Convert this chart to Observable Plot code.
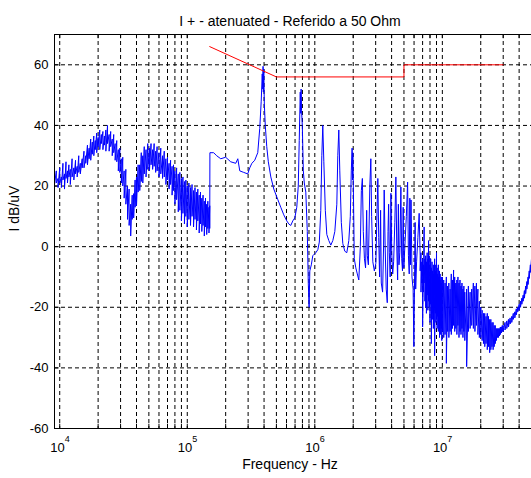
<!DOCTYPE html>
<html>
<head>
<meta charset="utf-8">
<script src="https://cdn.jsdelivr.net/npm/d3@7"></script>
<script src="https://cdn.jsdelivr.net/npm/@observablehq/plot@0.6"></script>
<style>
  html, body { margin: 0; padding: 0; background: #fff; }
</style>
</head>
<body>
<div id="chart"></div>
<script>
// ---- text ----
const titleText = "I + - atenuated - Referido a 50 Ohm";
const xLabelText = "Frequency - Hz";
const yLabelText = "I dB/uV";

// ---- axis ticks ----
const yTicks = [-60, -40, -20, 0, 20, 40, 60];
const decades = [1e4, 1e5, 1e6, 1e7];
const exponents = ["4", "5", "6", "7"];
const minorGrid = [
  2e4, 3e4, 4e4, 5e4, 6e4, 7e4, 8e4, 9e4,
  2e5, 3e5, 4e5, 5e5, 6e5, 7e5, 8e5, 9e5,
  2e6, 3e6, 4e6, 5e6, 6e6, 7e6, 8e6, 9e6,
  2e7, 3e7, 4e7
];

// ---- limit line (red) ----
const limitHz = [1.5e5, 5e5, 5e6, 5e6, 3e7];
const limitDb = [66, 56, 56, 60, 60];

// ---- measured sweep (blue) ----
// noisy bands: per frequency bin [Hz, max dB, min dB]
const bandLow = [
  [9.1e3,23.5,20.5],[9.4e3,25,21],[9.7e3,22.5,19.5],[1.0e4,26,21],[1.03e4,23,19.5],[1.06e4,27.5,22],[1.09e4,24,19],
  [1.12e4,28,22.5],[1.15e4,25,21],[1.18e4,27,23],[1.21e4,25.5,20.5],[1.25e4,29,23],[1.29e4,26,22],[1.33e4,28.5,24],
  [1.37e4,26.5,23],[1.41e4,30,24.5],[1.45e4,27.5,24],[1.5e4,29,26],[1.55e4,31.5,26],[1.6e4,30,27.5],[1.65e4,33.5,27],
  [1.7e4,32.5,29],[1.75e4,35.5,28.5],[1.8e4,34.5,30.5],[1.85e4,36.5,30],[1.9e4,35,32],[1.95e4,37.5,31],[2.0e4,36,33],
  [2.06e4,38.5,32],[2.12e4,37,34],[2.18e4,38,32],[2.24e4,36.5,33.5],[2.3e4,38.5,31.5],[2.37e4,40,34],[2.44e4,37,31.5],
  [2.51e4,38,33],[2.58e4,35.5,30],[2.65e4,37,31],[2.72e4,34,28.5],[2.8e4,35,28],[2.88e4,32,25],[2.96e4,32.5,24.5],
  [3.04e4,29,21],[3.12e4,29.5,20],[3.2e4,25,16],[3.3e4,25.5,14],[3.4e4,20,9],[3.5e4,19,7],[3.6e4,14,3.5],[3.7e4,17,9],
  [3.8e4,17.5,9.5],[3.9e4,22,13],[4.0e4,23,13.5],[4.12e4,27,18],[4.24e4,27,18.5],[4.36e4,31,21.5],[4.48e4,30,21],
  [4.6e4,33,24],[4.75e4,32,23],[4.9e4,34,25.5],[5.05e4,32.5,25],[5.2e4,34,27],[5.35e4,32,25.5],[5.5e4,34,26.5],
  [5.65e4,31.5,24.5],[5.8e4,33,25],[6.0e4,31,23],[6.2e4,32.5,24],[6.4e4,30,22.5],[6.6e4,31.5,23],[6.8e4,29,20.5],
  [7.0e4,29.5,22],[7.2e4,27.5,19],[7.4e4,28.5,20.5],[7.6e4,26.5,17],[7.8e4,27,18.5],[8.0e4,25,14],[8.25e4,26,15.5],
  [8.5e4,24,11.5],[8.75e4,24.5,12],[9.0e4,22.5,8.5],[9.25e4,23,11],[9.5e4,21.5,7.5],[9.75e4,22,10],[1.0e5,20,6.5],
  [1.03e5,21,9],[1.06e5,19.5,7],[1.09e5,20.5,10],[1.12e5,18.5,6.5],[1.15e5,19.5,9],[1.18e5,18,5.5],[1.21e5,19,8.5],
  [1.24e5,17,4.5],[1.27e5,18,7.5],[1.3e5,16,5],[1.33e5,17,7],[1.36e5,15,3.5],[1.39e5,16,6.5],[1.42e5,14,4],
  [1.45e5,15,6],[1.48e5,13,4.5],[1.5e5,13.5,6]
];
// single trace points [Hz, dB]
const sweepMid = [
  [1.505e5,31],[1.61e5,31],[1.70e5,30],[1.83e5,29],[2.0e5,29.5],[2.19e5,28],[2.40e5,27.5],[2.49e5,29],[2.58e5,25],
  [2.77e5,24.5],[2.98e5,24],[3.09e5,26],[3.21e5,27.5],[3.38e5,28.5],[3.57e5,31],[3.70e5,39],[3.80e5,48],[3.87e5,57],
  [3.91e5,52],[3.93e5,59.5],[3.95e5,51],[3.98e5,58.5],[4.02e5,47],[4.09e5,40],[4.20e5,33],[4.32e5,28],[4.52e5,23],
  [4.77e5,19],[5.13e5,15.5],[5.41e5,13],[5.71e5,10.5],[6.03e5,8.5],[6.25e5,7.5],[6.48e5,7],[6.72e5,8.5],[6.97e5,9.5],
  [7.22e5,13],[7.42e5,20],[7.55e5,35],[7.69e5,51],[7.75e5,44],[7.81e5,52],[7.87e5,45],[7.98e5,40],[8.13e5,25],
  [8.27e5,21],[8.50e5,18],[8.73e5,5],[8.89e5,-12],[9.02e5,-20],[9.14e5,-8],[9.39e5,-6],[9.64e5,-3],
  [1.018e6,-2],[1.056e6,-1],[1.085e6,1.5],[1.114e6,12],[1.135e6,30],[1.155e6,40],[1.177e6,28],[1.209e6,12],[1.242e6,4],
  [1.288e6,2],[1.335e6,0.5],[1.384e6,2],[1.435e6,5],[1.488e6,14],[1.514e6,30],[1.542e6,38.5],[1.570e6,25],[1.614e6,8],
  [1.658e6,1],[1.718e6,-1.5],[1.782e6,-2],[1.848e6,2],[1.898e6,10],[1.932e6,25],[1.961e6,32.5],[1.975e6,22],[1.986e6,31],
  [2.005e6,20],[2.04e6,-4],[2.097e6,-7],[2.154e6,-9],[2.213e6,-11],[2.275e6,0],[2.317e6,18.5],[2.36e6,22.5]
];
const sweepComb = [
  [2.40e6,5],[2.45e6,-4],[2.50e6,-7],[2.55e6,12],[2.58e6,-3],[2.63e6,-6],[2.70e6,20],[2.75e6,29],[2.79e6,10],
  [2.85e6,-5],[2.93e6,-8],[3.01e6,-5.5],[3.06e6,8],[3.12e6,22.5],[3.17e6,3],[3.22e6,-10],[3.28e6,12],[3.32e6,-12],
  [3.40e6,-15],[3.46e6,0],[3.50e6,18.7],[3.56e6,0],[3.63e6,-14],[3.70e6,-18.5],[3.75e6,5],[3.79e6,14],[3.84e6,-2],
  [3.90e6,-10],[3.95e6,17.6],[4.01e6,-2],[4.08e6,-9],[4.15e6,-5],[4.24e6,8],[4.32e6,23],[4.39e6,0],[4.46e6,-11],
  [4.52e6,14],[4.57e6,-6],[4.64e6,-2],[4.73e6,19.7],[4.80e6,-4],[4.87e6,-8],[4.93e6,13],[4.99e6,-7],[5.08e6,0],
  [5.22e6,10],[5.34e6,21.3],[5.42e6,-3],[5.50e6,-9],[5.56e6,16],[5.62e6,-6],[5.68e6,15.4],[5.78e6,-10],[5.90e6,-14],
  [5.98e6,-33],[6.05e6,-12],[6.12e6,8],[6.18e6,-14],[6.28e6,-5],[6.43e6,3],[6.58e6,11]
];
const bandHigh = [
  [6.7e6,-3,-8],[6.8e6,-2,-15],[6.9e6,-5,-12],[7.0e6,-4,-26.5],[7.1e6,-6,-15],[7.2e6,6.5,-12],[7.3e6,-4,-18],
  [7.4e6,-3,-20],[7.5e6,-5,-22],[7.6e6,-2,-16],[7.7e6,-4,-21],[7.8e6,2,-18],[7.9e6,-3,-20],[8.0e6,-6,-25],
  [8.1e6,-4,-19],[8.2e6,-7,-32],[8.3e6,-5,-22],[8.4e6,-8,-24],[8.5e6,-6,-27],[8.6e6,-9,-21],[8.7e6,-4,-36],
  [8.8e6,-6,-22],[8.9e6,-8,-25],[9.0e6,-2,-24],[9.1e6,-7,-27],[9.2e6,-9,-23],[9.3e6,-6,-28],[9.4e6,-10,-25],
  [9.5e6,-8,-30],[9.6e6,-9,-26],[9.7e6,-11,-29],[9.8e6,-10,-27],[9.9e6,-12,-31],[1.0e7,-10,-28],[1.025e7,-11,-30],
  [1.05e7,-12,-29],[1.075e7,-10,-38.5],[1.1e7,-13,-28],[1.125e7,-12,-30],[1.15e7,-14,-28],[1.175e7,-9,-29],
  [1.2e7,-11,-27],[1.225e7,-7.7,-26],[1.25e7,-10,-28],[1.275e7,-12,-27],[1.3e7,-11,-29],[1.325e7,-10,-26],
  [1.35e7,-12,-30],[1.375e7,-11,-28],[1.4e7,-13,-29],[1.425e7,-12,-27],[1.45e7,-14,-30],[1.475e7,-13,-28],
  [1.5e7,-15,-31],[1.55e7,-14,-39.6],[1.6e7,-13,-28],[1.65e7,-15,-27],[1.7e7,-14,-26],[1.75e7,-12,-27],
  [1.8e7,-13,-28],[1.85e7,-12,-26],[1.9e7,-14,-29],[1.95e7,-18,-30],[2.0e7,-20,-30],[2.05e7,-21,-31],[2.1e7,-22,-32],
  [2.15e7,-22,-33],[2.2e7,-23,-32],[2.25e7,-22,-34],[2.3e7,-23,-33],[2.35e7,-24,-35],[2.4e7,-24,-34],[2.45e7,-25,-33],
  [2.5e7,-25,-34],[2.55e7,-26,-33],[2.6e7,-26,-32],[2.65e7,-27,-31],[2.7e7,-27,-30],[2.75e7,-27,-30],[2.8e7,-27,-29.5],
  [2.85e7,-26.5,-29],[2.9e7,-26.5,-28.5],[2.95e7,-26,-28],[3.0e7,-26,-28],[3.1e7,-25,-27.5],[3.2e7,-24.5,-27],
  [3.3e7,-24,-26.5],[3.4e7,-23.5,-25.5],[3.5e7,-23,-25],[3.6e7,-22,-24],[3.7e7,-21.5,-23.5],[3.8e7,-20.5,-22.5],
  [3.9e7,-20,-21.5],[4.0e7,-19,-21],[4.1e7,-18,-20],[4.2e7,-17,-19],[4.3e7,-16,-18],[4.4e7,-14.5,-17],[4.5e7,-13,-15.5],
  [4.6e7,-11.5,-14],[4.7e7,-10,-12.5],[4.8e7,-8,-10.5],[4.9e7,-6,-8.5],[5.0e7,-4,-6]
];

const xDomain = [9.1e3, 5e7];
const yDomain = [-60, 70];

const fromBand = band => band.flatMap(([f, hi, lo]) => [{f, v: hi}, {f, v: lo}]);
const fromTrace = tr => tr.map(([f, v]) => ({f, v}));
const sweep = [...fromBand(bandLow), ...fromTrace(sweepMid), ...fromTrace(sweepComb), ...fromBand(bandHigh)];
const limit = limitHz.map((f, i) => ({f, v: limitDb[i]}));
const allXGrid = [...decades, ...minorGrid];
const gridStyle = {stroke: "#000", strokeOpacity: 1, strokeWidth: 1, strokeDasharray: "4,3"};

const chart = Plot.plot({
  width: 531,
  height: 478,
  marginLeft: 54,
  marginRight: 0,
  marginTop: 34,
  marginBottom: 50,
  style: {fontFamily: "'Liberation Sans', Arial, sans-serif", fontSize: "13px", background: "#fff", color: "#000"},
  x: {type: "log", domain: xDomain, axis: null},
  y: {domain: yDomain, axis: null},
  marks: [
    Plot.gridX(allXGrid, gridStyle),
    Plot.gridY(yTicks.filter(d => d > yDomain[0]), gridStyle),
    // inward ticks
    Plot.ruleX(allXGrid, {y1: yDomain[0], y2: yDomain[0] + 1.4, stroke: "#000"}),
    Plot.ruleX(allXGrid, {y1: yDomain[1], y2: yDomain[1] - 1.4, stroke: "#000"}),
    Plot.ruleY(yTicks, {x1: xDomain[0], x2: 9.9e3, stroke: "#000"}),
    // data
    Plot.line(sweep, {x: "f", y: "v", stroke: "#0000ff", strokeWidth: 1, clip: true}),
    Plot.line(limit, {x: "f", y: "v", stroke: "#ff0000", strokeWidth: 1}),
    // box
    Plot.ruleX([xDomain[0]], {stroke: "#000"}),
    Plot.ruleY([yDomain[0], yDomain[1]], {stroke: "#000"}),
    // y tick labels
    Plot.text(yTicks, {x: xDomain[0], y: d => d, text: d => String(d), dx: -6, textAnchor: "end", fontSize: 13}),
    // x tick labels 10^n
    Plot.text(decades, {x: d => d, y: yDomain[0], text: () => "10", dx: 5, dy: 19, textAnchor: "end", fontSize: 13}),
    Plot.text(decades, {x: d => d, y: yDomain[0], text: (d, i) => exponents[i], dx: 5, dy: 11, textAnchor: "start", fontSize: 9}),
    // title & labels
    Plot.text([titleText], {frameAnchor: "top", dy: -18, dx: -3, fontSize: 14}),
    Plot.text([xLabelText], {frameAnchor: "bottom", dy: 40, dx: -3, fontSize: 14}),
    Plot.text([yLabelText], {frameAnchor: "left", dx: -40, rotate: -90, fontSize: 14})
  ]
});
document.getElementById("chart").appendChild(chart);
</script>
</body>
</html>
